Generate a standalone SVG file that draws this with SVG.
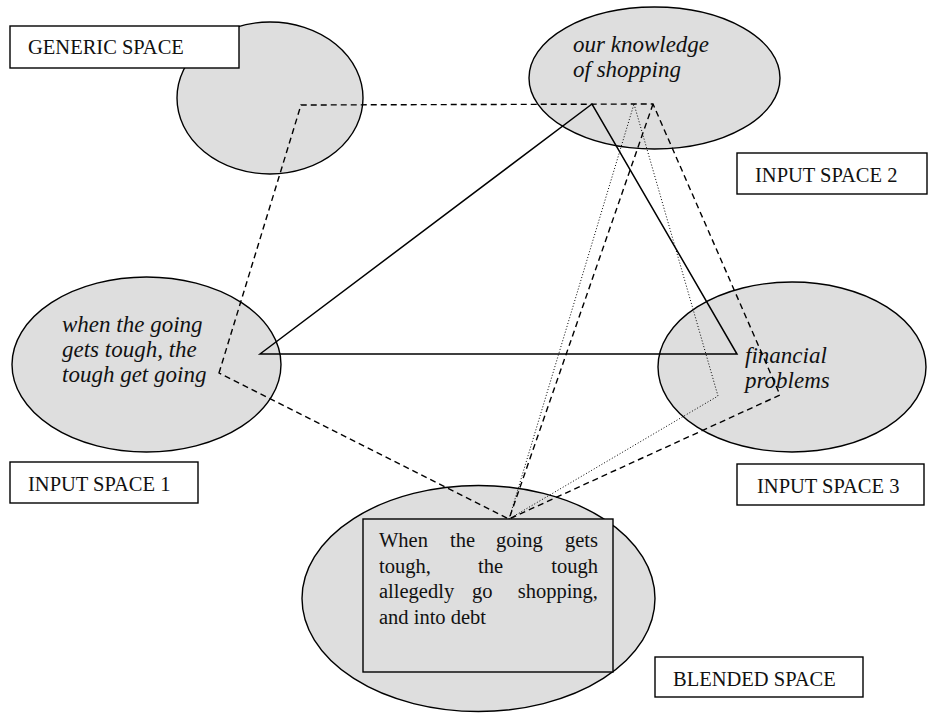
<svg xmlns="http://www.w3.org/2000/svg" width="928" height="713" viewBox="0 0 928 713">
<style>
.sp{fill:#dedede;stroke:#000;stroke-width:1.4}
.lbl{fill:#fff;stroke:#000;stroke-width:1.4}
.t{font-family:"Liberation Serif","Times New Roman",serif;font-size:20.5px;fill:#111}
.it{font-family:"Liberation Serif","Times New Roman",serif;font-size:23px;font-style:italic;fill:#111}
.solid{fill:none;stroke:#000;stroke-width:1.5}
.dash{fill:none;stroke:#000;stroke-width:1.4;stroke-dasharray:6 4}
.dot{fill:none;stroke:#000;stroke-width:1;stroke-dasharray:1 2}
</style>
<rect width="928" height="713" fill="#fff"/>
<g id="generic-space">
<ellipse class="sp" cx="270" cy="98" rx="93" ry="76"/>
<rect class="lbl" x="10" y="26" width="229" height="42"/>
<text class="t" x="28" y="54">GENERIC SPACE</text>
</g>
<g id="input-space-2">
<ellipse class="sp" cx="654.5" cy="78" rx="125.5" ry="71"/>
<text class="it" x="573" y="52">our knowledge</text>
<text class="it" x="573" y="77">of shopping</text>
<rect class="lbl" x="737" y="153" width="190" height="41"/>
<text class="t" x="755" y="182">INPUT SPACE 2</text>
</g>
<g id="input-space-1">
<ellipse class="sp" cx="146.5" cy="364.5" rx="134.5" ry="87.5"/>
<text class="it" x="62" y="332">when the going</text>
<text class="it" x="62" y="357">gets tough, the</text>
<text class="it" x="62" y="382">tough get going</text>
<rect class="lbl" x="10" y="462" width="188" height="41"/>
<text class="t" x="28" y="491">INPUT SPACE 1</text>
</g>
<g id="input-space-3">
<ellipse class="sp" cx="792" cy="367" rx="134" ry="85"/>
<text class="it" x="745" y="363">financial</text>
<text class="it" x="745" y="388">problems</text>
<rect class="lbl" x="737" y="464" width="187" height="41"/>
<text class="t" x="757" y="493">INPUT SPACE 3</text>
</g>
<g id="blended-space">
<ellipse class="sp" cx="478.5" cy="598.5" rx="176.5" ry="113"/>
<rect class="sp" x="363" y="519" width="250" height="153"/>
<text class="t" x="379" y="547">When</text>
<text class="t" x="450" y="547">the</text>
<text class="t" x="496" y="547">going</text>
<text class="t" x="598" y="547" text-anchor="end">gets</text>
<text class="t" x="379" y="573">tough,</text>
<text class="t" x="478" y="573">the</text>
<text class="t" x="598" y="573" text-anchor="end">tough</text>
<text class="t" x="379" y="598">allegedly</text>
<text class="t" x="472" y="598">go</text>
<text class="t" x="598" y="598" text-anchor="end">shopping,</text>
<text class="t" x="379" y="624">and into debt</text>
<rect class="lbl" x="655" y="657" width="208" height="40"/>
<text class="t" x="673" y="686">BLENDED SPACE</text>
</g>
<g id="connectors">
<path class="solid" d="M260,354 L592,104 L737,354 Z"/>
<path class="dash" d="M219,373 L301,105 L653,104 L780,395 L509,519 Z"/>
<path class="dash" d="M653,104 L509,519"/>
<path class="dot" d="M634,104 L718,396 L509,519 Z"/>
</g>
</svg>
